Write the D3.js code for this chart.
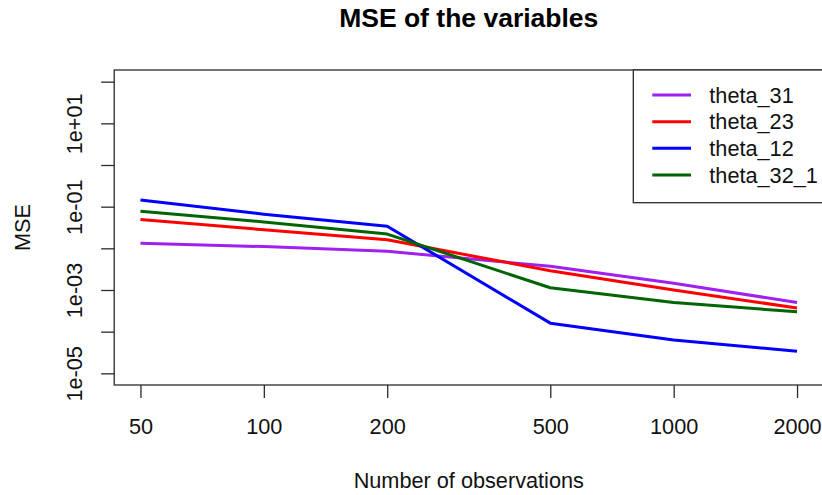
<!DOCTYPE html>
<html>
<head>
<meta charset="utf-8">
<script src="https://cdn.jsdelivr.net/npm/d3@7"></script>
<style>
  html, body { margin: 0; padding: 0; background: #fff; }
  svg { display: block; font-family: "Liberation Sans", Arial, sans-serif; }
</style>
</head>
<body>
<svg id="chart" width="822" height="495"></svg>
<script>
// Sample sizes (x axis, log scale)
const observations = [50, 100, 200, 500, 1000, 2000];

// MSE per parameter at each sample size
const theta31  = [0.0132, 0.011, 0.0085, 0.0037, 0.00145, 0.0005];
const theta23  = [0.049, 0.028, 0.016, 0.0029, 0.001, 0.00037];
const theta12  = [0.145, 0.066, 0.034, 0.00016, 0.000063, 0.000034];
const theta321 = [0.078, 0.043, 0.022, 0.00113, 0.0005, 0.0003];

const seriesNames  = ["theta_31", "theta_23", "theta_12", "theta_32_1"];
const seriesValues = [theta31, theta23, theta12, theta321];
const seriesColors = ["#A020F0", "#FF0000", "#0000FF", "#006400"];

// Axis ticks
const xTicks = [50, 100, 200, 500, 1000, 2000];
const yTicks = [1e-5, 1e-4, 1e-3, 1e-2, 1e-1, 1e0, 1e1, 1e2];
const yTickLabels = ["1e-05", "", "1e-03", "", "1e-01", "", "1e+01", ""];

const svg = d3.select("#chart");
const plot = { left: 114.2, right: 823.3, top: 70, bottom: 385 };
const baseFont = 21.7;

// log scales with a 4% margin on each side of the data range
const xPad = 0.04 * (Math.log10(2000) - Math.log10(50));
const x = d3.scaleLog()
  .domain([Math.pow(10, Math.log10(50) - xPad), Math.pow(10, Math.log10(2000) + xPad)])
  .range([plot.left, plot.right]);
const yPad = 0.04 * 7;
const y = d3.scaleLog()
  .domain([Math.pow(10, -5 - yPad), Math.pow(10, 2 + yPad)])
  .range([plot.bottom, plot.top]);

const axisColor = "#2b2b2b";

// series lines
const line = d3.line()
  .x((d, i) => x(observations[i]))
  .y(d => y(d));

seriesValues.forEach((vals, k) => {
  svg.append("path")
    .datum(vals)
    .attr("d", line)
    .attr("fill", "none")
    .attr("stroke", seriesColors[k])
    .attr("stroke-width", 3)
    .attr("stroke-linejoin", "round");
});

// x axis
const xAxis = d3.axisBottom(x)
  .tickValues(xTicks)
  .tickFormat(d3.format("d"))
  .tickSizeInner(13)
  .tickSizeOuter(0)
  .tickPadding(21);
const gx = svg.append("g")
  .attr("transform", `translate(0,${plot.bottom})`)
  .call(xAxis);
gx.select(".domain").remove();
gx.selectAll(".tick line").attr("stroke", axisColor).attr("stroke-width", 1.3);
gx.selectAll(".tick text").attr("font-size", baseFont).attr("fill", "#111")
  .attr("font-family", "Liberation Sans, Arial, sans-serif");

// y axis
const yAxis = d3.axisLeft(y)
  .tickValues(yTicks)
  .tickFormat((d, i) => yTickLabels[i])
  .tickSizeInner(13)
  .tickSizeOuter(0);
const gy = svg.append("g")
  .attr("transform", `translate(${plot.left},0)`)
  .call(yAxis);
gy.select(".domain").remove();
gy.selectAll(".tick line").attr("stroke", axisColor).attr("stroke-width", 1.3);
gy.selectAll(".tick text")
  .attr("font-size", baseFont).attr("fill", "#111")
  .attr("font-family", "Liberation Sans, Arial, sans-serif")
  .attr("x", null).attr("dy", null)
  .attr("text-anchor", "middle")
  .attr("transform", "translate(-32,0) rotate(-90)");

// plot frame
svg.append("rect")
  .attr("x", plot.left).attr("y", plot.top)
  .attr("width", plot.right - plot.left).attr("height", plot.bottom - plot.top)
  .attr("fill", "none").attr("stroke", axisColor).attr("stroke-width", 1.3);

// titles
svg.append("text")
  .attr("x", (plot.left + plot.right) / 2).attr("y", 26.5)
  .attr("text-anchor", "middle")
  .attr("font-size", 26.5).attr("font-weight", "bold").attr("fill", "#000")
  .text("MSE of the variables");

svg.append("text")
  .attr("x", (plot.left + plot.right) / 2).attr("y", 488)
  .attr("text-anchor", "middle")
  .attr("font-size", baseFont).attr("fill", "#111")
  .text("Number of observations");

svg.append("text")
  .attr("transform", `translate(29.5,${(plot.top + plot.bottom) / 2}) rotate(-90)`)
  .attr("text-anchor", "middle")
  .attr("font-size", baseFont).attr("fill", "#111")
  .text("MSE");

// legend
const legend = { left: 633.3, top: plot.top, bottom: 202.7 };
svg.append("rect")
  .attr("x", legend.left).attr("y", legend.top)
  .attr("width", plot.right - legend.left).attr("height", legend.bottom - legend.top)
  .attr("fill", "#fff").attr("stroke", axisColor).attr("stroke-width", 1.3);

const rowY = d3.scalePoint().domain(seriesNames).range([95, 175]);
seriesNames.forEach((name, k) => {
  const cy = rowY(name);
  svg.append("line")
    .attr("x1", 652.3).attr("x2", 691)
    .attr("y1", cy).attr("y2", cy)
    .attr("stroke", seriesColors[k]).attr("stroke-width", 3);
  svg.append("text")
    .attr("x", 709.3).attr("y", cy)
    .attr("dy", "0.36em")
    .attr("font-size", baseFont).attr("fill", "#111")
    .text(name);
});
</script>
</body>
</html>
